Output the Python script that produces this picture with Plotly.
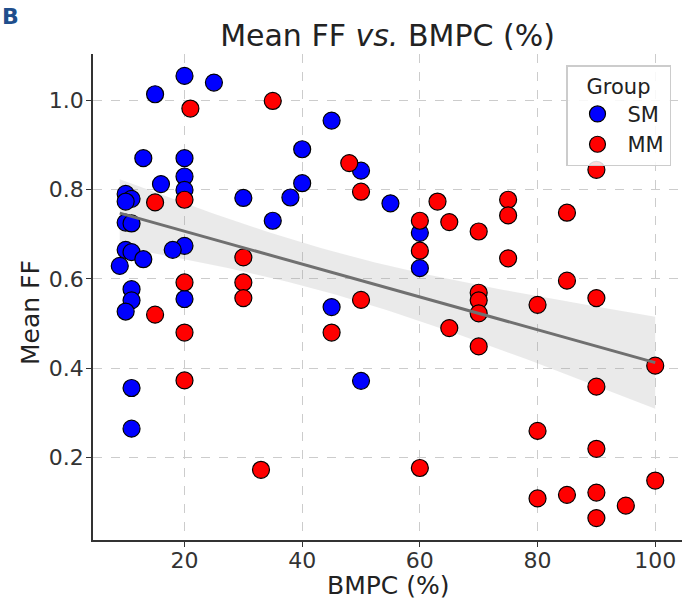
import numpy as np
import plotly.graph_objects as go

# ---- data ----
sm_x = [20, 25, 15, 13, 20, 20, 16, 20, 10, 11, 10, 30, 35, 10, 11, 20, 18, 10, 11, 13, 9,
        11, 11, 10, 20, 11, 11, 45, 40, 50, 40, 38, 55, 60, 60, 45, 50]
sm_y = [1.054, 1.039, 1.013, 0.870, 0.870, 0.829, 0.812, 0.799, 0.790, 0.779, 0.773, 0.781,
        0.730, 0.726, 0.724, 0.674, 0.665, 0.665, 0.660, 0.644, 0.629, 0.577, 0.552, 0.527,
        0.555, 0.356, 0.265, 0.954, 0.890, 0.842, 0.814, 0.782, 0.769, 0.703, 0.624, 0.537, 0.372]

mm_x = [21, 35, 15, 20, 30, 20, 20, 20, 15, 33, 30, 30, 48, 50, 63, 60, 65, 60, 50, 45, 60, 65,
        90, 75, 75, 85, 70, 75, 85, 70, 70, 70, 70, 80, 90, 100, 90, 80, 90, 100, 85, 90, 80, 95, 90]
mm_y = [0.981, 0.998, 0.771, 0.777, 0.648, 0.592, 0.480, 0.373, 0.520, 0.173, 0.592, 0.557,
        0.859, 0.795, 0.773, 0.730, 0.727, 0.663, 0.553, 0.480, 0.177, 0.490,
        0.844, 0.777, 0.742, 0.748, 0.706, 0.646, 0.596, 0.569, 0.552, 0.523, 0.449, 0.542,
        0.557, 0.406, 0.359, 0.260, 0.220, 0.149, 0.117, 0.122, 0.109, 0.093, 0.065]

x_ticks = [20, 40, 60, 80, 100]
y_ticks = [0.2, 0.4, 0.6, 0.8, 1.0]
y_tick_text = ["0.2", "0.4", "0.6", "0.8", "1.0"]

# ---- regression (OLS with 95% CI of the mean) ----
X = np.array(sm_x + mm_x, dtype=float)
Y = np.array(sm_y + mm_y, dtype=float)
n = len(X)
b1, b0 = np.polyfit(X, Y, 1)
resid = Y - (b0 + b1 * X)
s = np.sqrt(np.sum(resid ** 2) / (n - 2))
xbar = X.mean()
sxx = np.sum((X - xbar) ** 2)
xs = np.linspace(X.min(), X.max(), 100)
yhat = b0 + b1 * xs
t = 1.99
half = t * s * np.sqrt(1.0 / n + (xs - xbar) ** 2 / sxx)
lo, hi = yhat - half, yhat + half

FONT = "DejaVu Sans"
fig = go.Figure()

fig.add_trace(go.Scatter(x=np.concatenate([xs, xs[::-1]]), y=np.concatenate([hi, lo[::-1]]),
                         fill="toself", fillcolor="rgba(160,160,160,0.22)", line=dict(width=0),
                         hoverinfo="skip", showlegend=False))
fig.add_trace(go.Scatter(x=sm_x, y=sm_y, mode="markers", name="SM",
                         marker=dict(color="#0000ff", size=17, line=dict(color="black", width=1.2))))
fig.add_trace(go.Scatter(x=mm_x, y=mm_y, mode="markers", name="MM",
                         marker=dict(color="#ff0000", size=17, line=dict(color="black", width=1.2))))
fig.add_trace(go.Scatter(x=xs, y=yhat, mode="lines", line=dict(color="#707070", width=3),
                         hoverinfo="skip", showlegend=False))

axis_common = dict(showgrid=True, gridcolor="#cccccc", griddash="dash", gridwidth=1,
                   zeroline=False, showline=True, linecolor="#333333", linewidth=1.5,
                   ticks="outside", ticklen=5, tickcolor="#333333", automargin=False,
                   tickfont=dict(family=FONT, size=22, color="#333333"))

fig.update_layout(
    width=682, height=605,
    margin=dict(l=93, r=0, t=54, b=65),
    plot_bgcolor="white", paper_bgcolor="white",
    title=dict(text="Mean FF <i>vs.</i> BMPC (%)", x=0.5, xref="paper", xanchor="center",
               y=1 - 35 / 605, yref="container", yanchor="middle",
               font=dict(family=FONT, size=30, color="#222222")),
    xaxis=dict(range=[4.45, 104.55], tickvals=x_ticks, ticklabelstandoff=-5, **axis_common),
    yaxis=dict(range=[0.016, 1.103], tickvals=y_ticks, ticktext=y_tick_text,
               ticklabelstandoff=-2, **axis_common),
    legend=dict(title=dict(text="Group", side="top center", font=dict(family=FONT, size=21, color="#222222")),
                font=dict(family=FONT, size=21, color="#222222"),
                x=(671 - 93) / 589, xanchor="right", y=(540 - 65) / 486, yanchor="top",
                bgcolor="rgba(255,255,255,0.85)", bordercolor="#cccccc", borderwidth=1.5,
                itemsizing="trace", itemwidth=50),
    annotations=[
        dict(text="<b>B</b>", xref="paper", yref="paper", x=-93 / 589, y=(540 - 17) / 486,
             xanchor="left", yanchor="middle", showarrow=False,
             font=dict(family=FONT, size=22, color="#1f4e8c")),
        dict(text="BMPC (%)", xref="paper", yref="paper", x=0.5, y=(540 - 585) / 486,
             xanchor="center", yanchor="middle", showarrow=False,
             font=dict(family=FONT, size=25, color="#222222")),
        dict(text="Mean FF", xref="paper", yref="paper", x=(30 - 93) / 589, y=(540 - 313) / 486,
             textangle=-90, xanchor="center", yanchor="middle", showarrow=False,
             font=dict(family=FONT, size=25, color="#222222")),
    ],
)

fig.write_html("out.html", config={"displayModeBar": False},
               post_script="document.body.style.margin='0';document.body.style.overflow='hidden';")
